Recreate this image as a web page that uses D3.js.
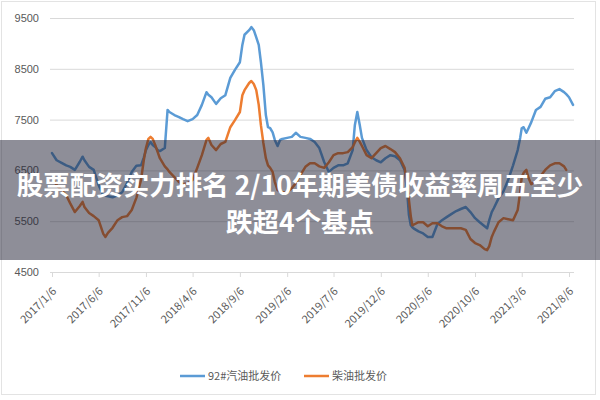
<!DOCTYPE html>
<html>
<head>
<meta charset="utf-8">
<script src="https://cdn.jsdelivr.net/npm/d3@7"></script>
<style>
  html, body { margin: 0; padding: 0; background: #fff; }
  svg { display: block; font-family: "Noto Sans CJK SC", "Noto Sans", sans-serif; }
</style>
</head>
<body>
<div id="chart"></div>
<script>
const dates = [
    '2017-01-06','2017-01-21','2017-02-06','2017-02-21','2017-03-06','2017-03-21','2017-04-06','2017-04-15','2017-04-21','2017-05-06',
    '2017-05-21','2017-06-06','2017-06-21','2017-06-28','2017-07-06','2017-07-21','2017-08-06','2017-08-21','2017-09-06','2017-09-21',
    '2017-10-06','2017-10-21','2017-10-30','2017-11-06','2017-11-14','2017-11-21','2017-11-28','2017-12-06','2017-12-14','2017-12-21',
    '2018-01-06','2018-01-15','2018-01-21','2018-02-06','2018-02-21','2018-03-06','2018-03-21','2018-04-06','2018-04-21','2018-05-06',
    '2018-05-21','2018-05-27','2018-06-06','2018-06-21','2018-07-06','2018-07-21','2018-08-06','2018-08-21','2018-09-06','2018-09-14',
    '2018-09-21','2018-10-06','2018-10-13','2018-10-21','2018-10-29','2018-11-06','2018-11-13','2018-11-21','2018-11-29','2018-12-06',
    '2018-12-13','2018-12-21','2018-12-28',
    '2019-01-06','2019-01-14','2019-01-21','2019-02-06','2019-02-21','2019-03-06','2019-03-21','2019-04-06','2019-04-21','2019-05-06',
    '2019-05-21','2019-06-06','2019-06-21','2019-07-06','2019-07-21','2019-08-06','2019-08-21','2019-09-06','2019-09-13','2019-09-21',
    '2019-09-29','2019-10-06','2019-10-21','2019-11-06','2019-11-21','2019-12-06','2019-12-21',
    '2020-01-06','2020-01-21','2020-02-06','2020-02-21','2020-02-29','2020-03-06','2020-03-12','2020-03-17','2020-03-21','2020-04-06',
    '2020-04-21','2020-05-06','2020-05-21','2020-06-06','2020-06-21','2020-07-06','2020-07-21','2020-08-06','2020-08-21','2020-09-06',
    '2020-09-21','2020-10-06','2020-10-21','2020-11-06','2020-11-14','2020-11-21','2020-11-29','2020-12-06','2020-12-21',
    '2021-01-06','2021-01-21','2021-02-06','2021-02-21','2021-03-01','2021-03-06','2021-03-12','2021-03-21','2021-03-28','2021-04-06',
    '2021-04-21','2021-05-06','2021-05-21','2021-06-06','2021-06-21','2021-07-06','2021-07-21','2021-07-28','2021-08-06','2021-08-19'
]

// 92#汽油批发价
const gasoline = [
    6840,6700,6650,6600,6570,6510,6670,6770,6700,6570,
    6510,6210,6010,6000,5990,5970,6010,6070,6250,6470,
    6590,6600,6750,6900,7000,7060,7000,6960,6900,6880,
    6940,7690,7650,7590,7550,7510,7470,7510,7590,7790,
    8040,7990,7940,7810,7920,7980,8320,8480,8630,8970,
    9170,9260,9320,9260,9120,8970,8630,8180,7590,7350,
    7330,7250,7100,
    6980,7100,7120,7140,7160,7240,7160,7140,7120,7060,
    6940,6660,6470,6550,6600,6600,6640,6900,7390,7650,
    7390,7140,6900,6760,6700,6660,6740,
    6800,6780,6700,6510,6110,5620,5420,5380,5360,5300,
    5260,5190,5190,5440,5520,5580,5640,5700,5740,5780,
    5680,5560,5480,5400,5360,5520,5680,5760,5950,
    6090,6310,6600,6900,7140,7330,7350,7240,7330,7450,
    7690,7750,7910,7940,8060,8100,8040,8000,7940,7790
]

// 柴油批发价
const diesel = [
    6350,6210,6110,6010,5850,5680,5800,5880,5780,5660,
    5600,5520,5250,5190,5270,5370,5520,5580,5600,5720,
    5960,6310,6700,6940,7120,7160,7120,7000,6860,6740,
    6580,6520,6470,6370,6270,6230,6250,6310,6550,6800,
    7100,7140,7000,6900,7020,7060,7350,7490,7650,7980,
    8080,8220,8260,8200,8080,7790,7390,7040,6740,6600,
    6550,6470,6270,
    6110,6090,6070,6070,6150,6250,6410,6570,6640,6640,
    6580,6550,6660,6800,6840,6840,6860,6960,7050,7140,
    7060,6980,6800,6740,6840,6940,6980,
    6920,6860,6740,6550,6210,5920,5600,5420,5430,5480,
    5480,5400,5460,5460,5400,5360,5360,5360,5360,5330,
    5150,5070,5030,4950,4930,5010,5190,5290,5480,
    5560,5540,5520,5720,6070,6370,6450,6510,6350,6230,
    6290,6390,6510,6600,6640,6640,6580,6510,null,null
]

const tickLabels = ['2017/1/6','2017/6/6','2017/11/6','2018/4/6','2018/9/6','2019/2/6',
    '2019/7/6','2019/12/6','2020/5/6','2020/10/6','2021/3/6','2021/8/6']
const yTicks = [4500, 5500, 6500, 7500, 8500, 9500]
const seriesNames = ['92#汽油批发价', '柴油批发价']
const titleLines = ['股票配资实力排名 2/10年期美债收益率周五至少', '跌超4个基点']

const CONFIG = {
    width: 600,
    height: 400,
    plotLeft: 50,
    plotRight: 574,
    plotTop: 18,
    plotBottom: 272,
    colors: ['#5b9bd5', '#ed7d31'],
    grid: '#d9d9d9',
    label: '#595959'
}

const parseDate = d3.timeParse('%Y-%m-%d')
const parseTick = d3.timeParse('%Y/%-m/%-d')

const svg = d3.select('#chart')
    .append('svg')
    .attr('width', CONFIG.width)
    .attr('height', CONFIG.height)

// chart border
svg.append('rect')
    .attr('x', 1.5).attr('y', 1.5)
    .attr('width', 594).attr('height', 393)
    .attr('fill', '#fff')
    .attr('stroke', '#e3e3e3')

const x = d3.scaleTime()
    .domain([parseTick(tickLabels[0]), parseTick(tickLabels[tickLabels.length - 1])])
    .range([52, 569])

const y = d3.scaleLinear()
    .domain([4500, 9500])
    .range([CONFIG.plotBottom, CONFIG.plotTop])

/**
 * Gridlines + y labels
 */
const yAxis = svg.append('g')
    .attr('transform', `translate(${CONFIG.plotLeft}, 0)`)
    .call(d3.axisLeft(y)
        .tickValues(yTicks)
        .tickFormat(d3.format('d'))
        .tickSize(-(CONFIG.plotRight - CONFIG.plotLeft))
        .tickPadding(11))
yAxis.select('.domain').remove()
yAxis.selectAll('line').attr('stroke', CONFIG.grid)
yAxis.selectAll('text')
    .attr('fill', CONFIG.label)
    .attr('font-size', 11)

/**
 * X axis
 */
const xAxis = svg.append('g')
    .attr('transform', `translate(0, ${CONFIG.plotBottom})`)
    .call(d3.axisBottom(x).tickValues(tickLabels.map(parseTick)).tickSize(5).tickFormat(''))
xAxis.select('.domain')
    .attr('d', `M${CONFIG.plotLeft},0.5H${CONFIG.plotRight}`)
    .attr('stroke', CONFIG.grid)
xAxis.selectAll('line').attr('stroke', CONFIG.grid)

svg.append('g')
    .selectAll('text')
    .data(tickLabels)
    .enter()
    .append('text')
    .attr('transform', d => `translate(${x(parseTick(d)) + 5}, ${CONFIG.plotBottom + 20}) rotate(-45)`)
    .attr('text-anchor', 'end')
    .attr('font-size', 11)
    .attr('fill', CONFIG.label)
    .text(d => d)

/**
 * Lines
 */
const series = [gasoline, diesel]
const line = d3.line()
    .defined(d => d.v !== null)
    .x(d => x(d.date))
    .y(d => y(d.v))

series.forEach((values, i) => {
    const points = dates.map((d, j) => ({ date: parseDate(d), v: values[j] }))
    svg.append('path')
        .datum(points)
        .attr('d', line)
        .attr('fill', 'none')
        .attr('stroke', CONFIG.colors[i])
        .attr('stroke-width', 2.5)
        .attr('stroke-linejoin', 'round')
        .attr('stroke-linecap', 'round')
})

/**
 * Legend
 */
const legendX = [180, 304]
const legend = svg.append('g')
    .selectAll('g')
    .data(seriesNames)
    .enter()
    .append('g')
    .attr('transform', (d, i) => `translate(${legendX[i]}, 376)`)
legend.append('line')
    .attr('x1', 0).attr('x2', 25)
    .attr('stroke', (d, i) => CONFIG.colors[i])
    .attr('stroke-width', 2.5)
legend.append('text')
    .attr('x', 28)
    .attr('y', 4)
    .attr('font-size', 11)
    .attr('fill', CONFIG.label)
    .text(d => d)

/**
 * Overlay banner
 */
svg.append('rect')
    .attr('x', 0).attr('y', 140)
    .attr('width', CONFIG.width).attr('height', 120)
    .attr('fill', 'rgba(30, 30, 50, 0.5)')

svg.append('g')
    .selectAll('text')
    .data(titleLines)
    .enter()
    .append('text')
    .attr('x', 300)
    .attr('y', (d, i) => 195 + i * 37)
    .attr('text-anchor', 'middle')
    .attr('font-size', 26.5)
    .attr('font-weight', 'bold')
    .attr('fill', '#fff')
    .text(d => d)
</script>
</body>
</html>
